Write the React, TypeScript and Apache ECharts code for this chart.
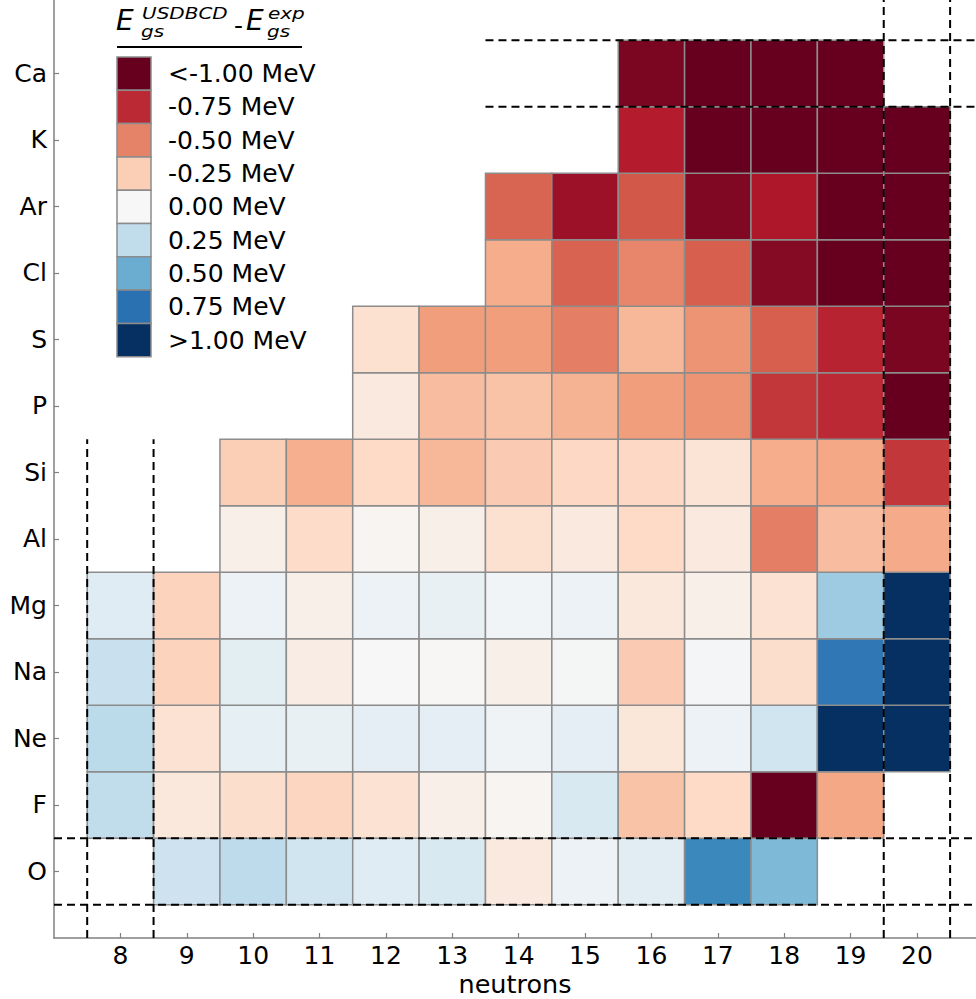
import React, { useEffect, useRef } from 'react';
import * as echarts from 'echarts';

// ---------- data ----------
const elements = ['O', 'F', 'Ne', 'Na', 'Mg', 'Al', 'Si', 'P', 'S', 'Cl', 'Ar', 'K', 'Ca'];
const neutrons = [8, 9, 10, 11, 12, 13, 14, 15, 16, 17, 18, 19, 20];
const xTickValues = [8, 9, 10, 11, 12, 13, 14, 15, 16, 17, 18, 19, 20];
const yTickValues = [0, 1, 2, 3, 4, 5, 6, 7, 8, 9, 10, 11, 12];

// E_gs(USDBCD) - E_gs(exp) in MeV, by neutron number 8..20 (null = no nucleus)
const rowO = [null, 0.21, 0.26, 0.2, 0.12, 0.16, -0.1, 0.06, 0.11, 0.65, 0.45, null, null];
const rowF = [0.25, -0.11, -0.18, -0.22, -0.15, -0.06, -0.02, 0.16, -0.29, -0.2, -1.1, -0.39, null];
const rowNe = [0.27, -0.15, 0.09, 0.08, 0.095, 0.095, 0.04, 0.095, -0.12, 0.06, 0.2, 1.2, 1.2];
const rowNa = [0.225, -0.23, 0.105, -0.08, 0.0, -0.01, -0.06, 0.016, -0.26, 0.02, -0.18, 0.72, 1.2];
const rowMg = [0.12, -0.23, 0.06, -0.06, 0.06, 0.08, 0.03, 0.06, -0.11, -0.06, -0.15, 0.36, 1.2];
const rowAl = [null, null, -0.06, -0.19, -0.02, -0.06, -0.16, -0.1, -0.2, -0.1, -0.51, -0.31, -0.38];
const rowSi = [null, null, -0.25, -0.36, -0.2, -0.33, -0.26, -0.21, -0.21, -0.14, -0.37, -0.39, -0.71];
const rowP = [null, null, null, null, -0.1, -0.31, -0.29, -0.35, -0.42, -0.45, -0.71, -0.75, -1.1];
const rowS = [null, null, null, null, -0.16, -0.42, -0.42, -0.51, -0.33, -0.45, -0.6, -0.77, -0.95];
const rowCl = [null, null, null, null, null, null, -0.37, -0.59, -0.49, -0.6, -0.92, -1.1, -1.1];
const rowAr = [null, null, null, null, null, null, -0.585, -0.86, -0.62, -0.93, -0.81, -1.1, -1.1];
const rowK = [null, null, null, null, null, null, null, null, -0.79, -1.1, -1.1, -1.1, -1.1];
const rowCa = [null, null, null, null, null, null, null, null, -0.95, -1.1, -1.1, -1.1, null];
const rows = [rowO, rowF, rowNe, rowNa, rowMg, rowAl, rowSi, rowP, rowS, rowCl, rowAr, rowK, rowCa];

const legendValues = [-1, -0.75, -0.5, -0.25, 0, 0.25, 0.5, 0.75, 1];
const legendLabels = ['<-1.00 MeV', '-0.75 MeV', '-0.50 MeV', '-0.25 MeV', '0.00 MeV', '0.25 MeV', '0.50 MeV', '0.75 MeV', '>1.00 MeV'];

// axis extents
const X_MIN = 7;
const X_MAX = 20.89;
const Y_MIN = -1;
const Y_MAX = 13.105;

// dashed guide lines, in data coordinates
const dashedSegments = [
  [[7.5, Y_MIN], [7.5, 6.5]],
  [[8.5, Y_MIN], [8.5, 6.5]],
  [[19.5, Y_MIN], [19.5, Y_MAX]],
  [[20.5, Y_MIN], [20.5, Y_MAX]],
  [[X_MIN, -0.5], [X_MAX, -0.5]],
  [[X_MIN, 0.5], [X_MAX, 0.5]],
  [[13.5, 11.5], [X_MAX, 11.5]],
  [[13.5, 12.5], [X_MAX, 12.5]],
];

// RdBu colormap (matplotlib), low -> red, high -> blue, range -1..1
const RDBU = ['#67001f', '#b2182b', '#d6604d', '#f4a582', '#fddbc7', '#f7f7f7', '#d1e5f0', '#92c5de', '#4393c3', '#2166ac', '#053061'];

function hexToRgb(h: string) {
  return [parseInt(h.slice(1, 3), 16), parseInt(h.slice(3, 5), 16), parseInt(h.slice(5, 7), 16)];
}
function colorFor(v: number) {
  const t = Math.max(0, Math.min(1, (v + 1) / 2)) * 10;
  const i = Math.min(9, Math.floor(t));
  const f = t - i;
  const a = hexToRgb(RDBU[i]);
  const b = hexToRgb(RDBU[i + 1]);
  const c = a.map((ai, k) => Math.round(ai + (b[k] - ai) * f));
  return `rgb(${c[0]},${c[1]},${c[2]})`;
}

const FONT = '"DejaVu Sans", "Liberation Sans", sans-serif';

export default function App() {
  const ref = useRef<HTMLDivElement>(null);
  useEffect(() => {
    if (!ref.current) return;
    const chart = echarts.init(ref.current, null, { renderer: 'svg' });

    const cellData: any[] = [];
    rows.forEach((row, yi) => {
      row.forEach((v, xi) => {
        if (v !== null && v !== undefined) cellData.push([neutrons[xi], yi, v]);
      });
    });

    const legendGraphics: any[] = [];
    const patchX = 117, patchY0 = 57, patchW = 34, patchH = 33.3;
    legendValues.forEach((v, i) => {
      legendGraphics.push({
        type: 'rect',
        shape: { x: patchX, y: patchY0 + i * patchH, width: patchW, height: patchH },
        style: { fill: colorFor(v), stroke: '#8c8c8c', lineWidth: 1.5 },
        z: 100,
      });
      legendGraphics.push({
        type: 'text',
        x: 168,
        y: patchY0 + i * patchH + patchH / 2,
        style: {
          text: legendLabels[i],
          font: `25px ${FONT}`,
          fill: '#000',
          textAlign: 'left',
          textVerticalAlign: 'middle',
        },
        z: 100,
      });
    });

    const small = { font: `italic 20px ${FONT}`, fill: '#000', textVerticalAlign: 'middle' };
    const titleGraphics: any[] = [
      { type: 'text', x: 116, y: 20, style: { text: 'E', font: `italic 28px ${FONT}`, fill: '#000', textVerticalAlign: 'middle' } },
      { type: 'text', x: 142, y: 13.5, scaleY: 0.78, style: { text: 'USDBCD', ...small } },
      { type: 'text', x: 141, y: 31.8, scaleY: 0.78, style: { text: 'gs', ...small } },
      { type: 'text', x: 234, y: 25, style: { text: '-', font: `25px ${FONT}`, fill: '#000', textVerticalAlign: 'middle' } },
      { type: 'text', x: 246, y: 20, style: { text: 'E', font: `italic 28px ${FONT}`, fill: '#000', textVerticalAlign: 'middle' } },
      { type: 'text', x: 268, y: 13.5, scaleY: 0.78, style: { text: 'exp', ...small } },
      { type: 'text', x: 267, y: 31.8, scaleY: 0.78, style: { text: 'gs', ...small } },
      { type: 'line', shape: { x1: 117, y1: 47, x2: 302, y2: 47 }, style: { stroke: '#000', lineWidth: 2 } },
    ].map((g) => ({ ...g, z: 100 }));

    const lineSeries = dashedSegments.map((seg) => ({
      type: 'line',
      data: seg,
      symbol: 'none',
      silent: true,
      z: 10,
      lineStyle: { color: '#000', width: 2, type: [8, 5] },
    }));

    chart.setOption({
      animation: false,
      backgroundColor: '#fff',
      grid: { left: 54, right: 0, top: 0, bottom: 61, containLabel: false, outerBoundsMode: 'none' },
      xAxis: {
        type: 'value',
        min: X_MIN,
        max: X_MAX,
        name: 'neutrons',
        nameLocation: 'middle',
        nameGap: 46,
        nameMoveOverlap: false,
        nameTextStyle: { fontFamily: FONT, fontSize: 25.5, color: '#000', verticalAlign: 'middle' },
        axisLine: { show: true, onZero: false, lineStyle: { color: '#808080', width: 1.5 } },
        axisTick: { show: true, inside: true, length: 5, customValues: xTickValues, lineStyle: { color: '#808080', width: 1.2 } },
        axisLabel: { customValues: xTickValues, fontFamily: FONT, fontSize: 25, color: '#000', margin: 5 },
        splitLine: { show: false },
      },
      yAxis: {
        type: 'value',
        min: Y_MIN,
        max: Y_MAX,
        axisLine: { show: true, onZero: false, lineStyle: { color: '#808080', width: 1.5 } },
        axisTick: { show: true, inside: true, length: 5, customValues: yTickValues, lineStyle: { color: '#808080', width: 1.2 } },
        axisLabel: {
          customValues: yTickValues,
          fontFamily: FONT,
          fontSize: 25,
          color: '#000',
          margin: 7,
          formatter: (v: number) => elements[Math.round(v)] ?? '',
        },
        splitLine: { show: false },
      },
      graphic: [...legendGraphics, ...titleGraphics],
      series: [
        {
          type: 'custom',
          silent: true,
          z: 2,
          encode: { x: 0, y: 1 },
          data: cellData,
          renderItem: (params: any, api: any) => {
            const x = api.value(0);
            const y = api.value(1);
            const v = api.value(2);
            const p0 = api.coord([x - 0.5, y + 0.5]);
            const p1 = api.coord([x + 0.5, y - 0.5]);
            return {
              type: 'rect',
              shape: { x: p0[0], y: p0[1], width: p1[0] - p0[0], height: p1[1] - p0[1] },
              style: { fill: colorFor(v), stroke: '#8c8c8c', lineWidth: 1.5 },
            };
          },
        },
        ...lineSeries,
      ],
    });
    return () => chart.dispose();
  }, []);

  return <div ref={ref} style={{ position: 'fixed', left: 0, top: 0, width: 976, height: 999, background: '#fff' }} />;
}
